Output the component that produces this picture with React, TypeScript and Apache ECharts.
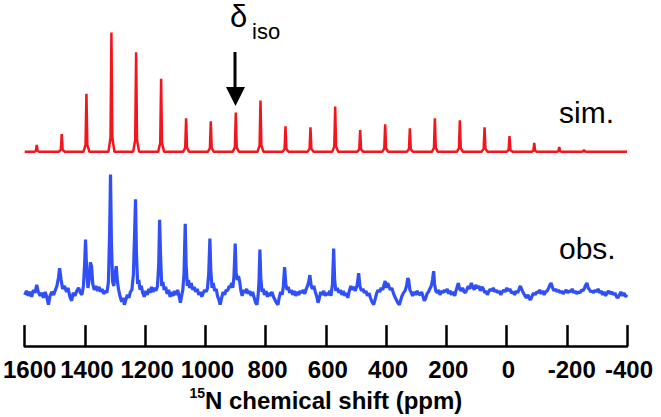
import React, { useEffect, useRef } from "react";
import * as echarts from "echarts";

// x-axis tick values (ppm)
const xTicks = [1600, 1400, 1200, 1000, 800, 600, 400, 200, 0, -200, -400];

// simulated spectrum: peak positions (ppm) and heights (arb. units)
const simPeakPpm = [1560, 1477, 1395, 1312, 1230, 1147, 1064, 982, 899, 817, 734, 651, 569, 486, 403, 321, 238, 155, 73, -10, -92, -175, -257];
const simPeakHeight = [7, 18, 59, 121, 101, 74, 34, 31, 40, 52, 26, 25, 46, 22, 28, 24, 34, 32, 25, 16, 9, 5, 2];

// observed spectrum: sampled trace [ppm, intensity]
const obsTrace: number[][] = [
  [1600, -1], [1594, 3], [1588, -2], [1583, 2], [1577, -3], [1571, 4], [1566, 1], [1560, 9], [1555, 2], [1549, -2],
  [1544, 1], [1538, -4], [1532, 2], [1527, -3], [1521, -11], [1516, -2], [1510, 2], [1504, -1], [1498, 4], [1493, 8],
  [1488, 16], [1484, 26], [1479, 14], [1474, 5], [1468, 8], [1461, 2], [1456, 6], [1450, -3], [1444, -7], [1439, 1],
  [1433, -2], [1427, 3], [1421, 6], [1415, 1], [1410, -1], [1405, 8], [1401, 30], [1398, 55], [1394, 22], [1390, 6],
  [1386, 14], [1382, 32], [1378, 28], [1374, 10], [1369, 4], [1364, 8], [1358, 3], [1353, 7], [1348, 2], [1343, 5],
  [1338, 0], [1332, 3], [1327, 1], [1322, 12], [1318, 62], [1315, 121], [1312, 52], [1308, 12], [1304, 8], [1300, 20],
  [1296, 28], [1292, 12], [1288, 4], [1283, -3], [1278, -8], [1273, -4], [1269, -11], [1264, -6], [1259, -1], [1254, -4],
  [1249, 2], [1244, 4], [1239, 20], [1235, 62], [1232, 96], [1229, 42], [1225, 10], [1221, 14], [1217, 4], [1213, 8],
  [1208, 1], [1203, -3], [1198, 3], [1193, -1], [1188, 5], [1184, 1], [1179, 7], [1174, 2], [1169, 6], [1164, 3],
  [1159, 8], [1155, 30], [1152, 75], [1149, 40], [1145, 8], [1141, 12], [1137, 4], [1132, 7], [1127, 0], [1122, 4],
  [1117, -3], [1112, 2], [1107, -2], [1102, 3], [1097, -1], [1092, 4], [1087, -3], [1083, -9], [1079, -2], [1075, 4],
  [1071, 20], [1067, 71], [1064, 30], [1060, 8], [1056, 14], [1052, 6], [1047, 11], [1042, 4], [1037, 7], [1032, 2],
  [1027, 5], [1022, -1], [1017, 2], [1012, -3], [1007, 1], [1002, 4], [997, 2], [993, 6], [989, 20], [985, 56],
  [982, 24], [978, 6], [974, 11], [969, 3], [964, 5], [960, -2], [955, -6], [951, -11], [946, -4], [941, 2],
  [936, -1], [931, 4], [926, 3], [921, 8], [917, 6], [913, 11], [909, 6], [905, 18], [901, 51], [898, 22],
  [894, 14], [890, 18], [886, 12], [882, 3], [878, -2], [873, 4], [868, 1], [863, 5], [858, 0], [853, 3],
  [848, -2], [843, 2], [838, -4], [833, -9], [829, -11], [825, -2], [822, 12], [819, 45], [816, 16], [812, 2],
  [808, 5], [804, -1], [799, 3], [794, -3], [789, 1], [784, -2], [779, 2], [774, -3], [769, -6], [764, -9],
  [759, -11], [755, -4], [750, 2], [745, -1], [741, 8], [737, 27], [733, 10], [729, 4], [725, 7], [720, 1],
  [715, 4], [710, -1], [705, 3], [700, -2], [695, 2], [690, -1], [685, 3], [680, 1], [675, 4], [670, 0],
  [665, 5], [661, 8], [657, 12], [653, 19], [649, 9], [645, 5], [640, 8], [635, 2], [630, -3], [626, -9],
  [622, -5], [617, 2], [612, -1], [607, 3], [602, -2], [597, 1], [592, -1], [587, 3], [583, -2], [578, 10],
  [574, 46], [571, 15], [567, 3], [562, 6], [557, 1], [552, 4], [547, -1], [542, 3], [537, -2], [532, 1],
  [527, -4], [522, 3], [517, 8], [512, 4], [507, 7], [502, 3], [496, 9], [491, 21], [487, 8], [482, 3],
  [477, 5], [472, 1], [467, 3], [462, -2], [457, 1], [452, -4], [447, -8], [441, -11], [436, -5], [431, 1],
  [426, 4], [421, 2], [416, 6], [411, 4], [407, 9], [403, 13], [399, 6], [395, 11], [391, 8], [386, 4],
  [381, 6], [376, 1], [371, -3], [366, -6], [361, -9], [356, -11], [352, -7], [347, -2], [342, 1], [337, 3],
  [332, 8], [328, 16], [325, 14], [321, 4], [316, 1], [312, -2], [307, 2], [302, -1], [297, 3], [292, 0],
  [287, -1], [282, 2], [277, -3], [273, -7], [269, -5], [264, 0], [259, 2], [255, 5], [250, 8], [246, 14],
  [242, 23], [239, 10], [235, 3], [230, 1], [226, 4], [221, -1], [216, 3], [211, 1], [206, 4], [202, 2],
  [197, 5], [192, 0], [187, 3], [182, -1], [177, 2], [172, -2], [167, 4], [163, 8], [160, 11], [156, 5],
  [151, 3], [146, 6], [141, 2], [137, 1], [132, 4], [127, 8], [122, 5], [117, 11], [112, 7], [107, 4],
  [102, 9], [97, 6], [92, 8], [87, 3], [82, 7], [77, 5], [72, 1], [67, 3], [64, -1], [59, 2],
  [54, 5], [49, 3], [44, 6], [39, 2], [34, 4], [29, 1], [24, 3], [19, -1], [14, 2], [9, 4],
  [4, 2], [-1, 6], [-6, 3], [-11, 5], [-16, 1], [-22, 2], [-27, -1], [-32, 3], [-37, 1], [-42, 5],
  [-46, 8], [-51, 4], [-56, 1], [-61, -2], [-66, -4], [-71, -1], [-76, -5], [-80, -6], [-85, -2], [-90, 1],
  [-95, -1], [-100, 2], [-105, 1], [-110, 4], [-115, 0], [-120, 3], [-125, -1], [-130, 2], [-135, 3], [-140, 6],
  [-144, 9], [-148, 11], [-153, 6], [-158, 3], [-163, 5], [-168, 2], [-173, 4], [-178, 1], [-183, 3], [-188, 0],
  [-193, 2], [-198, 4], [-203, 1], [-208, 3], [-213, 2], [-218, 5], [-223, 1], [-228, 3], [-233, 0], [-238, 2],
  [-244, 1], [-249, 4], [-254, 3], [-259, 6], [-263, 9], [-267, 11], [-271, 6], [-276, 4], [-280, 2], [-284, 3],
  [-289, 1], [-294, 4], [-299, 2], [-304, 5], [-309, 1], [-314, 3], [-319, -1], [-324, 2], [-329, -2], [-334, 1],
  [-339, 3], [-344, 0], [-350, 2], [-355, -1], [-360, 1], [-365, -3], [-370, -4], [-375, -1], [-380, 2], [-385, -2],
  [-390, 1], [-395, -3], [-400, -1],
];

// layout constants (baseline offsets of the two stacked traces)
const Y_MAX = 351;
const SIM_OFFSET = 197;
const OBS_OFFSET = 53;

function buildSim(): number[][] {
  const pts: number[][] = [[1600, SIM_OFFSET]];
  simPeakPpm.forEach((p, i) => {
    const h = simPeakHeight[i];
    pts.push([p + 10, SIM_OFFSET]);
    pts.push([p + 3, SIM_OFFSET + h * 0.12]);
    pts.push([p, SIM_OFFSET + h]);
    pts.push([p - 3, SIM_OFFSET + h * 0.12]);
    pts.push([p - 10, SIM_OFFSET]);
  });
  pts.push([-400, SIM_OFFSET]);
  return pts;
}

function buildObs(): number[][] {
  return obsTrace.map(([p, v]) => [p, OBS_OFFSET + v]);
}

export default function App() {
  const ref = useRef<HTMLDivElement>(null);
  useEffect(() => {
    if (!ref.current) return;
    const chart = echarts.init(ref.current, null, { renderer: "svg" });
    const font = "'Liberation Sans', Arial, sans-serif";
    const lbl = { fontSize: 24, fontWeight: "bold", fontFamily: font, color: "#000" };
    chart.setOption({
      animation: false,
      backgroundColor: "#ffffff",
      grid: { left: 23, right: 34, top: 0, bottom: 417 - Y_MAX },
      xAxis: {
        type: "value",
        inverse: true,
        min: -400,
        max: 1600,
        interval: 200,
        splitLine: { show: false },
        axisLine: { show: true, lineStyle: { color: "#000", width: 2.5 } },
        axisTick: { show: true, inside: true, length: 21, lineStyle: { color: "#000", width: 2.5 } },
        axisLabel: {
          show: true,
          showMinLabel: true,
          showMaxLabel: true,
          margin: 11,
          ...lbl,
          formatter: (v: number) =>
            v === xTicks[0] ? "{first|" + v + "}" : v === xTicks[9] ? "{wide|" + v + "}" : "{a|" + v + "}",
          rich: {
            a: { ...lbl, padding: [0, 0, 0, 4] },
            first: { ...lbl, padding: [0, 0, 0, 10] },
            wide: { ...lbl, padding: [0, 0, 0, 10] },
          },
        },
        name: "{sup|15}{n|N chemical shift (ppm)}",
        nameLocation: "middle",
        nameGap: 37,
        nameTextStyle: {
          rich: {
            sup: { fontSize: 14, fontWeight: "bold", fontFamily: font, color: "#000", lineHeight: 15, verticalAlign: "top" },
            n: { fontSize: 24, fontWeight: "bold", fontFamily: font, color: "#000", lineHeight: 28 },
          },
        },
      },
      yAxis: { type: "value", min: 0, max: Y_MAX, show: false },
      series: [
        {
          type: "line",
          data: buildSim(),
          symbol: "none",
          lineStyle: { color: "#f4141c", width: 2.5 },
          clip: true,
        },
        {
          type: "line",
          data: buildObs(),
          symbol: "none",
          lineStyle: { color: "#3050f5", width: 3.2 },
          clip: true,
        },
      ],
      graphic: [
        { type: "text", left: 230, top: 1, style: { text: "δ", fontSize: 31, lineHeight: 22, fontFamily: font, fill: "#000" } },
        { type: "text", left: 252, top: 20, style: { text: "iso", fontSize: 22, fontFamily: font, fill: "#000" } },
        { type: "line", shape: { x1: 235, y1: 52, x2: 235, y2: 90 }, style: { stroke: "#000", lineWidth: 3 } },
        { type: "polygon", shape: { points: [[226, 87], [245, 87], [235.5, 106]] }, style: { fill: "#000" } },
        { type: "text", left: 559, top: 97, style: { text: "sim.", fontSize: 30, fontFamily: font, fill: "#000" } },
        { type: "text", left: 559, top: 233, style: { text: "obs.", fontSize: 30, fontFamily: font, fill: "#000" } },
      ],
    });
    return () => chart.dispose();
  }, []);
  return <div ref={ref} style={{ position: "absolute", left: 0, top: 0, width: 661, height: 417 }} />;
}
